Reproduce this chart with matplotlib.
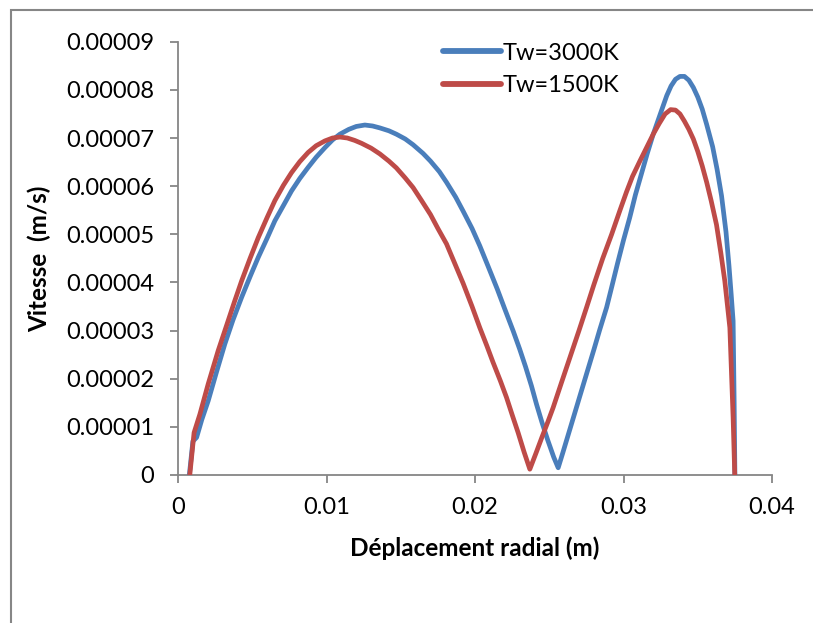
import matplotlib
matplotlib.use("Agg")
import matplotlib.pyplot as plt
from matplotlib.patches import Rectangle
from matplotlib.lines import Line2D

plt.rcParams['font.family'] = ['Lato', 'DejaVu Sans']

# --- data ---
x_3000 = [0.00076, 0.00100, 0.00125, 0.00160, 0.00203, 0.00260, 0.00315, 0.00370,
          0.00428, 0.00485, 0.00540, 0.00600, 0.00652, 0.00710, 0.00764, 0.00820,
          0.00876, 0.00930, 0.00989, 0.01040, 0.01090, 0.01150, 0.01200, 0.01258,
          0.01310, 0.01359, 0.01420, 0.01470, 0.01530, 0.01583, 0.01650, 0.01700,
          0.01760, 0.01808, 0.01870, 0.01920, 0.01980, 0.02032, 0.02090, 0.02150,
          0.02200, 0.02257, 0.02300, 0.02340, 0.02380, 0.02414, 0.02450, 0.02490,
          0.02530, 0.02560, 0.02590, 0.02630, 0.02670, 0.02706, 0.02750, 0.02800,
          0.02840, 0.02886, 0.02920, 0.02960, 0.03000, 0.03042, 0.03080, 0.03120,
          0.03160, 0.03200, 0.03250, 0.03291, 0.03320, 0.03350, 0.03380, 0.03410,
          0.03440, 0.03470, 0.03500, 0.03530, 0.03560, 0.03600, 0.03630, 0.03660,
          0.03690, 0.03710, 0.03725, 0.03738, 0.03745, 0.03750]
y_3000 = [0.00, 0.70, 0.78, 1.15, 1.54, 2.15, 2.72, 3.22,
          3.69, 4.12, 4.52, 4.92, 5.28, 5.60, 5.90, 6.16,
          6.39, 6.60, 6.80, 6.96, 7.08, 7.18, 7.24, 7.27,
          7.25, 7.21, 7.15, 7.08, 6.98, 6.86, 6.68, 6.52,
          6.30, 6.08, 5.77, 5.48, 5.12, 4.76, 4.32, 3.86,
          3.45, 2.99, 2.62, 2.25, 1.85, 1.47, 1.10, 0.72,
          0.37, 0.15, 0.45, 0.86, 1.27, 1.64, 2.09, 2.60,
          3.02, 3.48, 3.90, 4.40, 4.88, 5.35, 5.82, 6.25,
          6.68, 7.08, 7.52, 7.88, 8.08, 8.22, 8.28, 8.28,
          8.20, 8.05, 7.85, 7.60, 7.28, 6.82, 6.35, 5.80,
          5.05, 4.35, 3.75, 3.20, 1.50, 0.00]

x_1500 = [0.00079, 0.00108, 0.00147, 0.00203, 0.00270, 0.00337, 0.00380, 0.00428,
          0.00485, 0.00540, 0.00600, 0.00652, 0.00710, 0.00764, 0.00820, 0.00876,
          0.00930, 0.00989, 0.01040, 0.01090, 0.01140, 0.01190, 0.01236, 0.01300,
          0.01359, 0.01420, 0.01470, 0.01530, 0.01583, 0.01640, 0.01700, 0.01750,
          0.01808, 0.01860, 0.01920, 0.01980, 0.02032, 0.02080, 0.02120, 0.02170,
          0.02212, 0.02250, 0.02290, 0.02330, 0.02369, 0.02410, 0.02450, 0.02490,
          0.02526, 0.02580, 0.02640, 0.02700, 0.02751, 0.02800, 0.02860, 0.02920,
          0.02975, 0.03020, 0.03060, 0.03110, 0.03155, 0.03200, 0.03240, 0.03280,
          0.03317, 0.03350, 0.03380, 0.03410, 0.03440, 0.03470, 0.03500, 0.03530,
          0.03560, 0.03590, 0.03626, 0.03655, 0.03682, 0.03716, 0.03738, 0.03749]
y_1500 = [0.00, 0.88, 1.26, 1.89, 2.58, 3.20, 3.60, 4.03,
          4.50, 4.93, 5.35, 5.70, 6.02, 6.28, 6.51, 6.70,
          6.84, 6.94, 7.00, 7.02, 7.00, 6.95, 6.89, 6.79,
          6.67, 6.52, 6.38, 6.17, 5.97, 5.70, 5.41, 5.12,
          4.80, 4.42, 3.98, 3.50, 3.06, 2.68, 2.35, 1.96,
          1.61, 1.25, 0.88, 0.48, 0.12, 0.45, 0.78, 1.10,
          1.40, 1.90, 2.45, 3.00, 3.48, 3.95, 4.50, 5.00,
          5.49, 5.88, 6.20, 6.52, 6.80, 7.08, 7.30, 7.50,
          7.59, 7.58, 7.50, 7.35, 7.18, 6.98, 6.72, 6.42,
          6.08, 5.70, 5.20, 4.62, 4.03, 3.06, 1.19, 0.00]

series_labels = ['Tw=3000K', 'Tw=1500K']
x_ticks = [0, 0.01, 0.02, 0.03, 0.04]
x_tick_labels = ['0', '0.01', '0.02', '0.03', '0.04']
y_ticks = [0, 1e-5, 2e-5, 3e-5, 4e-5, 5e-5, 6e-5, 7e-5, 8e-5, 9e-5]
y_tick_labels = ['0', '0.00001', '0.00002', '0.00003', '0.00004', '0.00005',
                 '0.00006', '0.00007', '0.00008', '0.00009']

BLUE = '#4A7EBB'
RED = '#BE4B48'
GRAY = '#868686'

fig = plt.figure(figsize=(8.13, 6.23), dpi=100)
ax = fig.add_axes([0.219, 0.2376, 0.7306, 0.6954])

ax.plot(x_3000, [v * 1e-5 for v in y_3000], color=BLUE, lw=3.4,
        solid_joinstyle='round', solid_capstyle='round', label=series_labels[0])
ax.plot(x_1500, [v * 1e-5 for v in y_1500], color=RED, lw=3.4,
        solid_joinstyle='round', solid_capstyle='round', label=series_labels[1])

ax.set_xlim(0, 0.04)
ax.set_ylim(0, 9e-5)
ax.set_xticks(x_ticks)
ax.set_xticklabels(x_tick_labels)
ax.set_yticks(y_ticks)
ax.set_yticklabels(y_tick_labels)

for s in ['top', 'right']:
    ax.spines[s].set_visible(False)
for s in ['left', 'bottom']:
    ax.spines[s].set_color(GRAY)
    ax.spines[s].set_linewidth(1.3)
    ax.spines[s].set_zorder(0)

ax.tick_params(axis='both', direction='out', length=6, width=1.3, color=GRAY,
               labelsize=17, labelcolor='black')
ax.tick_params(axis='x', pad=10)
ax.tick_params(axis='y', pad=11)

ax.set_xlabel('Déplacement radial (m)', fontsize=17.5, fontweight='bold', labelpad=13)
ax.set_ylabel('Vitesse  (m/s)', fontsize=17.5, fontweight='bold', labelpad=11)

handles = [Line2D([], [], color=BLUE, lw=4.2, solid_capstyle='round'),
           Line2D([], [], color=RED, lw=4.2, solid_capstyle='round')]
leg = ax.legend(handles, series_labels, loc='upper left',
                bbox_to_anchor=(0.43, 1.02), frameon=False, fontsize=17,
                handlelength=2.45, handletextpad=0.1, labelspacing=0.5,
                borderaxespad=0)

# outer chart frame (partially visible)
fig.patches.append(Rectangle((11 / 813, -0.2), 1.2, 1.2 - 10 / 623,
                             transform=fig.transFigure, fill=False,
                             edgecolor=GRAY, lw=1.5))

fig.savefig('out.png', dpi=100)
